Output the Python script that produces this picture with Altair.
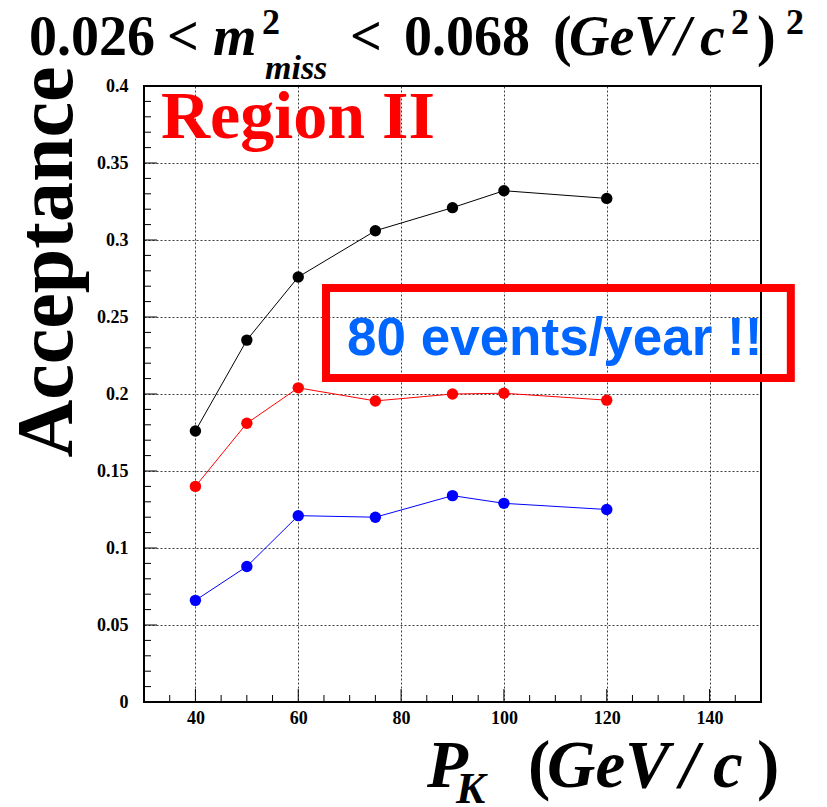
import altair as alt
import pandas as pd

# ---- data ----
p_k = [40, 50, 60, 75, 90, 100, 120]
acc_black = [0.176, 0.235, 0.276, 0.306, 0.321, 0.332, 0.327]
acc_red = [0.140, 0.181, 0.204, 0.1955, 0.200, 0.2005, 0.196]
acc_blue = [0.066, 0.088, 0.121, 0.120, 0.134, 0.129, 0.125]
series_names = ["black", "red", "blue"]
series_colors = ["#000000", "#ff0000", "#0000ff"]

x_major = [40, 60, 80, 100, 120, 140]
x_minor = [35, 45, 50, 55, 65, 70, 75, 85, 90, 95, 105, 110, 115, 125, 130, 135, 145]
y_major = [0, 0.05, 0.1, 0.15, 0.2, 0.25, 0.3, 0.35, 0.4]
y_minor = [round(0.01 * i, 2) for i in range(41) if i % 5 != 0]

box_x = [65.4, 155.8]
box_y = [0.2104, 0.2688]
box_text = "80 events/year !!"
region_text = "Region II"

W, H = 617, 616
OX, OY = 144, 86
SERIF = "Liberation Serif"

rows = []
for name, vals in zip(series_names, [acc_black, acc_red, acc_blue]):
    for p, a in zip(p_k, vals):
        rows.append({"p": p, "a": a, "s": name})
df = pd.DataFrame(rows)

xs = alt.Scale(domain=[30, 150], nice=False, zero=False)
ys = alt.Scale(domain=[0, 0.4], nice=False, zero=False)
cs = alt.Scale(domain=series_names, range=series_colors)

x_axis = alt.Axis(values=x_major, title=None, ticks=False, domain=False,
                  labelFont=SERIF, labelFontSize=18, labelFontWeight="bold",
                  labelColor="#000", labelPadding=7, grid=True, gridDash=[2, 2],
                  gridColor="#000", gridOpacity=0.75, gridWidth=1)
y_axis = alt.Axis(values=y_major, title=None, ticks=False, domain=False,
                  labelFont=SERIF, labelFontSize=18, labelFontWeight="bold",
                  labelColor="#000", labelPadding=16, grid=True, gridDash=[2, 2],
                  gridColor="#000", gridOpacity=0.75, gridWidth=1,
                  labelExpr="format(datum.value, '~g')")


def X(field):
    return alt.X(field, scale=xs, axis=x_axis)


def Y(field):
    return alt.Y(field, scale=ys, axis=y_axis)


lines = alt.Chart(df).mark_line(strokeWidth=1).encode(
    x=X("p:Q"), y=Y("a:Q"),
    color=alt.Color("s:N", scale=cs, legend=None),
)
points = alt.Chart(df).mark_circle(size=130, opacity=1).encode(
    x=X("p:Q"), y=Y("a:Q"),
    color=alt.Color("s:N", scale=cs, legend=None),
)


# inward ticks
def yticks(vals, length):
    return alt.Chart(pd.DataFrame({"a": vals})).mark_rule(color="#000", strokeWidth=1).encode(
        y=Y("a:Q"), x=alt.value(0), x2=alt.value(length))


def xticks(vals, length):
    return alt.Chart(pd.DataFrame({"p": vals})).mark_rule(color="#000", strokeWidth=1).encode(
        x=X("p:Q"), y=alt.value(H), y2=alt.value(H - length))


ticks = [yticks(y_minor, 7), yticks(y_major, 13), xticks(x_minor, 7), xticks(x_major, 13)]

# red box
box = alt.Chart(pd.DataFrame({"p": [box_x[0]], "p2": [box_x[1]], "a": [box_y[0]], "a2": [box_y[1]]})).mark_rect(
    fillOpacity=0, stroke="#ff0000", strokeWidth=8).encode(
    x=X("p:Q"), x2="p2:Q", y=Y("a:Q"), y2="a2:Q")


def txt(t, x, y, size, italic=False, color="#000", font=SERIF, angle=0, align="left"):
    kw = dict(align=align, baseline="alphabetic", font=font, fontSize=size,
              fontWeight="bold", color=color)
    if italic:
        kw["fontStyle"] = "italic"
    if angle:
        kw["angle"] = angle
    return alt.Chart(pd.DataFrame({"t": [t]})).mark_text(**kw).encode(
        x=alt.value(x - OX), y=alt.value(y - OY), text="t:N")


texts = [
    # title
    txt("0.026", 29, 55, 56),
    txt("<", 167, 55, 56),
    txt("m", 213, 55, 56, True),
    txt("2", 262, 34, 36),
    txt("miss", 265, 79, 34, True),
    txt("<", 350, 55, 56),
    txt("0.068", 404, 55, 56),
    txt("(", 553, 55, 56),
    txt("GeV", 569, 55, 56, True),
    txt("/", 675, 55, 56, True),
    txt("c", 700, 55, 56, True),
    txt("2", 731, 34, 36),
    txt(")", 757, 55, 56),
    txt("2", 786, 34, 36),
    # x title
    txt("P", 427, 787, 67, True),
    txt("K", 456, 803, 44, True),
    txt("(", 528, 787, 67),
    txt("GeV", 547, 787, 67, True),
    txt("/", 680, 787, 67, True),
    txt("c", 713, 787, 67, True),
    txt(")", 757, 787, 67),
    # y title
    txt("Acceptance", 72, 262, 80, angle=270, align="center"),
    # annotations
    txt(region_text, 161, 138, 68, color="#ff0000"),
    txt(box_text, 347, 355, 53, color="#0066ff", font="Liberation Sans"),
]

chart = alt.layer(lines, points, *ticks, box, *texts).properties(
    width=W, height=H,
    autosize=alt.AutoSizeParams(type="none"),
    padding={"left": OX, "top": OY, "right": 827 - OX - W, "bottom": 807 - OY - H},
    background="white",
).configure_view(stroke="#000", strokeWidth=2)

chart.save("out.html", embed_options={"renderer": "svg", "actions": False})
